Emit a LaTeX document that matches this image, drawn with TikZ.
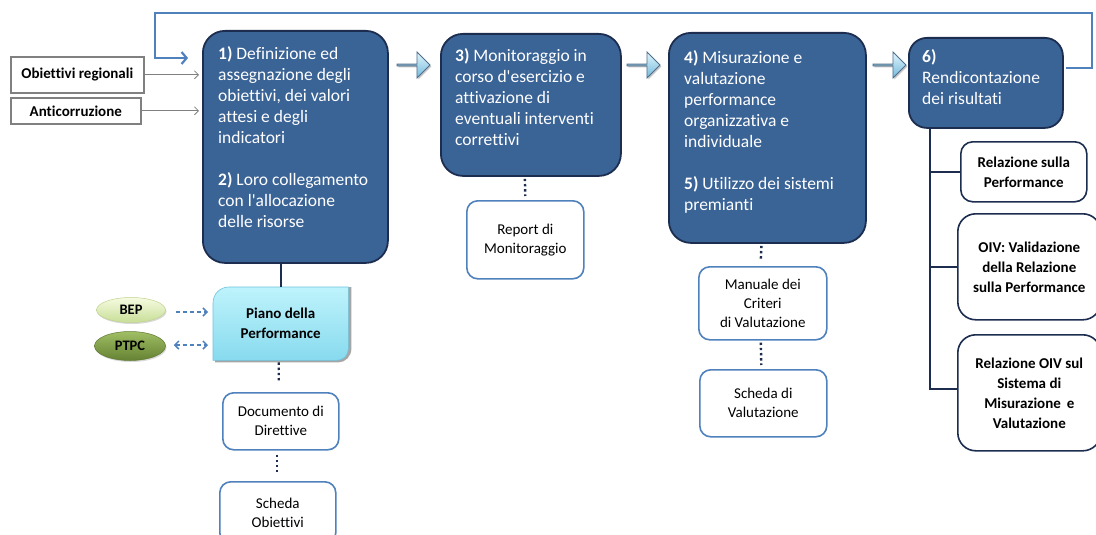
\documentclass[tikz,border=0pt]{standalone}
\usepackage{fontspec}
\setmainfont{Carlito}[Ligatures={TeXOff,CommonOff}]
\usetikzlibrary{arrows.meta,calc,shapes.geometric,shapes.arrows,shadows}
\definecolor{boxfill}{RGB}{58,99,150}
\definecolor{navyd}{RGB}{28,45,80}
\definecolor{lineblue}{RGB}{79,129,189}
\definecolor{grayb}{RGB}{128,128,128}
\tikzset{
  bigbox/.style={draw=navyd, line width=1.8pt, fill=boxfill, rounded corners=22pt, anchor=north west, inner sep=0pt},
  bigtxt/.style={text=white, anchor=north west, inner sep=0pt, align=left, font=\fontsize{17.5}{21}\selectfont},
  docbox/.style={draw=lineblue, line width=1.6pt, fill=white, rounded corners=11pt, align=center, font=\fontsize{15}{19}\selectfont, anchor=north west, inner sep=0pt},
  relbox/.style={draw=navyd, line width=1.6pt, rounded corners=15pt, fill=white, align=center, font=\bfseries\fontsize{15}{20}\selectfont, anchor=north west, inner sep=0pt},
  inbox/.style={draw=grayb, line width=1.6pt, fill=white, font=\bfseries\fontsize{15}{16}\selectfont, anchor=north west, inner sep=0pt, drop shadow={shadow xshift=1pt, shadow yshift=-1pt, opacity=0.3}},
  dotcon/.style={navyd, line width=2.4pt, dash pattern=on 2.4pt off 2.8pt},
  solcon/.style={navyd, line width=2.2pt},
  blockarr/.style={single arrow, single arrow head extend=6pt, minimum height=33pt, minimum width=26pt, inner sep=0pt,
     draw={rgb,255:red,80;green,110;blue,140}, line width=0.9pt, top color={rgb,255:red,225;green,246;blue,252}, bottom color={rgb,255:red,115;green,185;blue,220},
     drop shadow={shadow xshift=1.5pt, shadow yshift=-1.5pt, opacity=0.45}},
  feed/.style={lineblue, line width=2.2pt, -{Straight Barb[length=5pt,width=12pt]}},
  grayarr/.style={grayb, line width=0.8pt, -{Straight Barb[length=4pt,width=8pt]}},
  dasharr/.style={lineblue, line width=1.5pt, dash pattern=on 4pt off 3pt, -{Straight Barb[length=4pt,width=8pt]}},
  ell/.style={ellipse, inner sep=0pt, font=\bfseries\fontsize{14.5}{15}\selectfont, drop shadow={shadow xshift=1pt, shadow yshift=-1.5pt, opacity=0.3}},
}
\begin{document}
\begin{tikzpicture}[x=1pt,y=-1pt]
\useasboundingbox (0,0) rectangle (1096,535);

% big process boxes
\node[bigbox, minimum width=185pt, minimum height=232pt] (b1) at (202,30) {};
\node[bigbox, minimum width=180pt, minimum height=142pt] (b3) at (440,33) {};
\node[bigbox, minimum width=197pt, minimum height=210pt] (b4) at (668,32) {};
\node[bigbox, minimum width=154pt, minimum height=90pt, rounded corners=18pt] (b6) at (908,37) {};

\node[bigtxt] (t1) at (218,46) {\textbf{1)} Definizione ed\\assegnazione degli\\obiettivi, dei valori\\attesi e degli\\indicatori\\[21pt]\textbf{2)} Loro collegamento\\con l'allocazione\\delle risorse};
\node[bigtxt] (t3) at (455,48) {\textbf{3)} Monitoraggio in\\corso d'esercizio e\\attivazione di\\eventuali interventi\\correttivi};
\node[bigtxt] (t4) at (684,50) {\textbf{4)} Misurazione e\\valutazione\\performance\\organizzativa e\\individuale\\[21pt]\textbf{5)} Utilizzo dei sistemi\\premianti};
\node[bigtxt] (t6) at (922,49) {\textbf{6)}\\Rendicontazione\\dei risultati};

% block arrows
\node[blockarr] (a1) at (413,65) {};
\node[blockarr] (a2) at (643,65) {};
\node[blockarr] (a3) at (889,65) {};

% inputs
\node[inbox, minimum width=133pt, minimum height=36pt] (ob) at (10,56) {Obiettivi regionali};
\node[inbox, minimum width=130pt, minimum height=26pt] (an) at (10,97) {Anticorruzione};
\draw[grayarr] (ob.east) -- ($(ob.east -| b1.west)+(-3,0)$);
\draw[grayarr] (an.east) -- ($(an.east -| b1.west)+(-3,0)$);

% feedback loop
\coordinate (fbs) at (1066,68);
\coordinate (fbe) at (188,58);
\draw[feed, line join=miter] (fbs) -- (1092,68) -- (1092,13) -- (155,13) -- (155,58) -- (fbe);

% Piano della Performance
\node[inner sep=0pt, minimum width=135pt, minimum height=73pt, anchor=north west] (piano) at (213,287) {};
\fill[black, opacity=0.35] ($(piano.south west)+(2,2)$) -- ($(piano.north west)+(2,16)$) .. controls ($(piano.north west)+(2,7)$) and ($(piano.north west)+(9,0)$) .. ($(piano.north west)+(18,0)$) -- ($(piano.north east)+(3,0)$) -- ($(piano.south east)+(3,-12)$) .. controls ($(piano.south east)+(3,-4)$) and ($(piano.south east)+(-3,2)$) .. ($(piano.south east)+(-10,2)$) -- cycle;
\draw[draw={rgb,255:red,110;green,195;blue,220}, line width=0.6pt, top color={rgb,255:red,190;green,243;blue,252}, bottom color={rgb,255:red,135;green,218;blue,238}]
  (piano.south west) -- ($(piano.north west)+(0,16)$) .. controls ($(piano.north west)+(0,7)$) and ($(piano.north west)+(7,0)$) .. ($(piano.north west)+(16,0)$)
  -- (piano.north east) -- ($(piano.south east)+(0,-12)$) .. controls ($(piano.south east)+(0,-5)$) and ($(piano.south east)+(-5,0)$) .. ($(piano.south east)+(-12,0)$) -- cycle;
\node[inner sep=0pt, align=center, font=\bfseries\fontsize{15}{20}\selectfont] (pianotxt) at (piano.center) {Piano della\\Performance};
\draw[solcon] (piano.north |- b1.south) -- (piano.north);

% BEP and PTPC
\node[ell, minimum width=69pt, minimum height=25pt, top color={rgb,255:red,246;green,251;blue,226}, bottom color={rgb,255:red,200;green,222;blue,150}, draw={rgb,255:red,190;green,210;blue,140}, line width=0.5pt] (bep) at (131,310) {BEP};
\node[ell, minimum width=71pt, minimum height=29pt, top color={rgb,255:red,160;green,190;blue,100}, bottom color={rgb,255:red,100;green,130;blue,50}, draw={rgb,255:red,95;green,120;blue,50}, line width=0.5pt] (ptpc) at (130,346) {PTPC};
\draw[dasharr] ($(bep.east)+(10,2)$) -- ($(piano.west |- bep.east)+(-5,2)$);
\draw[dasharr, {Straight Barb[length=4pt,width=8pt]}-{Straight Barb[length=4pt,width=8pt]}] ($(ptpc.east)+(8,-1)$) -- ($(piano.west |- ptpc.east)+(-5,-1)$);

% documents under plan
\node[docbox, minimum width=116pt, minimum height=57pt] (doc) at (222,392) {Documento di\\Direttive};
\node[docbox, minimum width=116pt, minimum height=62pt] (sob) at (219,481) {Scheda\\Obiettivi};
\draw[dotcon] ($(piano.south)+(-2,2)$) -- ($(doc.north)+(-2,-10)$);
\draw[dotcon] ($(doc.south)+(-4,4)$) -- ($(sob.north)+(-1,-9)$);

% report
\node[docbox, minimum width=117pt, minimum height=78pt] (rep) at (466,200) {Report di\\Monitoraggio};
\draw[dotcon] ($(b3.south)+(-6,2)$) -- ($(rep.north)+(0,-4)$);

% valuation documents
\node[docbox, minimum width=128pt, minimum height=73pt] (man) at (698,266) {Manuale dei\\Criteri\\di Valutazione};
\node[docbox, minimum width=127pt, minimum height=67pt] (sval) at (699,369) {Scheda di\\Valutazione};
\draw[dotcon] ($(b4.south)+(-6,2)$) -- ($(man.north)+(-2,-5)$);
\draw[dotcon] ($(man.south)+(-2,2)$) -- ($(sval.north)+(-2,-4)$);

% reporting outputs
\node[relbox, minimum width=126pt, minimum height=60pt, rounded corners=12pt] (r1) at (960,141) {Relazione sulla\\Performance};
\node[relbox, minimum width=143pt, minimum height=106pt, rounded corners=18pt] (r2) at (957,213) {OIV: Validazione\\della Relazione\\sulla Performance};
\node[relbox, minimum width=143pt, minimum height=116pt, rounded corners=18pt] (r3) at (957,334) {Relazione OIV sul\\Sistema di\\Misurazione\, e\\Valutazione};
\coordinate (trunk) at (930,128);
\coordinate (r3b) at (957,389);
\draw[solcon] (trunk) |- (r3b);
\draw[solcon] (trunk |- r1.west) -- (r1.west);
\draw[solcon] (trunk |- r2.west) -- (r2.west);
\end{tikzpicture}
\end{document}
